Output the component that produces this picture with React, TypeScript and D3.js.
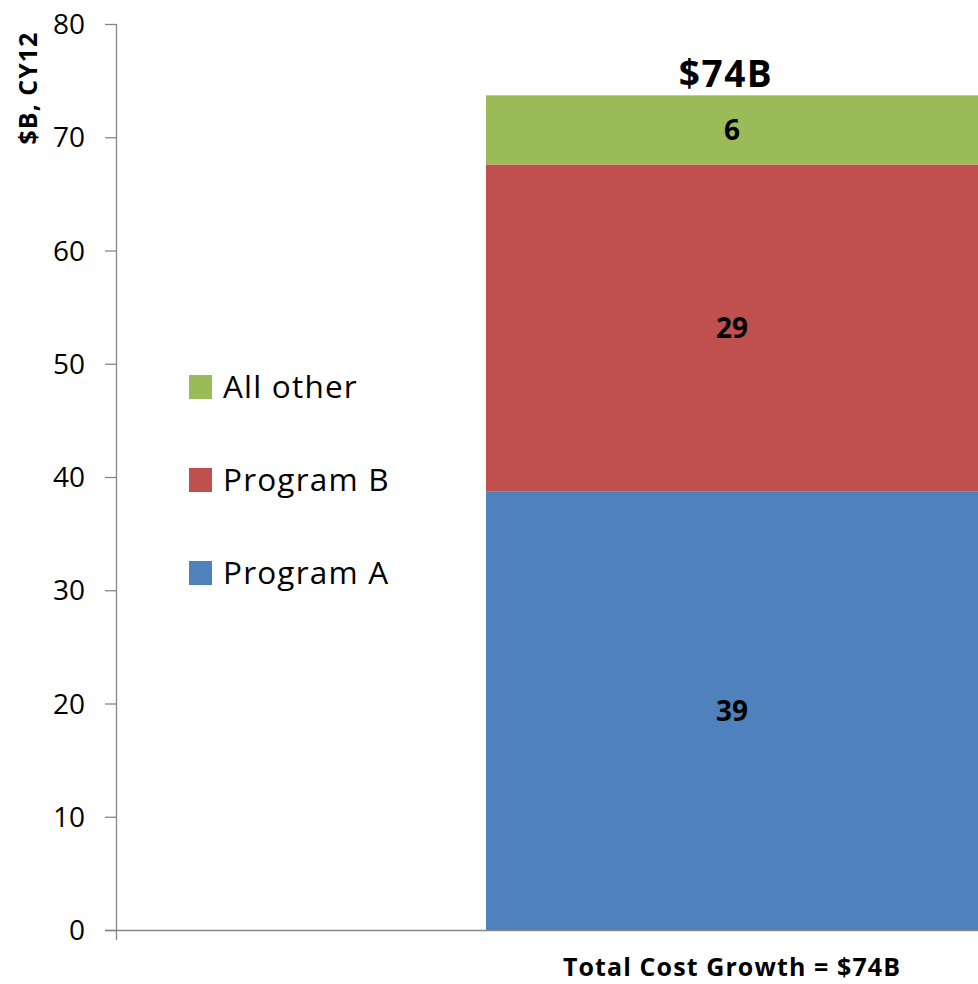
import React from "react";
import * as d3 from "d3";

const categories = ["Total Cost Growth = $74B"];
const seriesNames = ["Program A", "Program B", "All other"];
const seriesValues = [38.7, 28.9, 6.1];
const segmentLabels = ["39", "29", "6"];
const seriesColors = ["#4F81BD", "#C0504D", "#9BBB59"];
const yTicks = [0, 10, 20, 30, 40, 50, 60, 70, 80];
const totalLabel = "$74B";
const yAxisTitle = "$B, CY12";

const W = 978;
const H = 984;
const FONT = "'Open Sans', Lato, sans-serif";

export default function App() {
  const y = d3.scaleLinear().domain([0, 80]).range([930, 24]);
  const x = d3.scaleBand().domain(categories).range([486, 978]).padding(0);
  const axisX = 116.5;

  const stacked: { name: string; y0: number; y1: number; color: string; label: string }[] = [];
  let acc = 0;
  seriesValues.forEach((v, i) => {
    stacked.push({ name: seriesNames[i], y0: acc, y1: acc + v, color: seriesColors[i], label: segmentLabels[i] });
    acc += v;
  });

  const legendOrder = [2, 1, 0];
  const legendY = [387, 480, 573];
  const cat = categories[0];
  const bx = x(cat) as number;
  const bw = x.bandwidth();
  const cx = bx + bw / 2;

  return (
    <svg
      width={W}
      height={H}
      style={{ position: "absolute", left: 0, top: 0, background: "#fff" }}
      fontFamily={FONT}
    >
      {stacked.map((s) => (
        <rect key={s.name} x={bx} y={y(s.y1)} width={bw} height={y(s.y0) - y(s.y1)} fill={s.color} />
      ))}
      {stacked.map((s) => (
        <text
          key={"l" + s.name}
          x={cx}
          y={(y(s.y0) + y(s.y1)) / 2 + 10}
          textAnchor="middle"
          fontWeight="bold"
          fontSize={28}
          fill="#000"
        >
          {s.label}
        </text>
      ))}
      <text x={cx - 6} y={87} textAnchor="middle" fontWeight="bold" fontSize={37} letterSpacing={1.5} fill="#000">
        {totalLabel}
      </text>
      <line x1={axisX} x2={axisX} y1={y(80)} y2={y(0) + 10} stroke="#868686" strokeWidth={1.3} />
      <line x1={105} x2={W} y1={y(0) + 0.5} y2={y(0) + 0.5} stroke="#868686" strokeWidth={1.3} />
      {yTicks.map((t) => (
        <g key={t}>
          <line x1={105} x2={axisX} y1={y(t) + 0.5} y2={y(t) + 0.5} stroke="#868686" strokeWidth={1.3} />
          <text x={85} y={y(t) + 10} textAnchor="end" fontSize={28} fill="#000">
            {t}
          </text>
        </g>
      ))}
      <text
        transform={`translate(37, 88) rotate(-90)`}
        textAnchor="middle"
        fontWeight="bold"
        fontSize={25}
        letterSpacing={1}
        fill="#000"
      >
        {yAxisTitle}
      </text>
      <text x={cx} y={976} textAnchor="middle" fontWeight="bold" fontSize={25} letterSpacing={1.1} fill="#000">
        {cat}
      </text>
      {legendOrder.map((i, k) => (
        <g key={"lg" + i}>
          <rect x={189} y={legendY[k] - 12} width={23} height={24} fill={seriesColors[i]} />
          <text x={223} y={legendY[k] + 11} fontSize={31.5} letterSpacing={1.2} fill="#000">
            {seriesNames[i]}
          </text>
        </g>
      ))}
    </svg>
  );
}
